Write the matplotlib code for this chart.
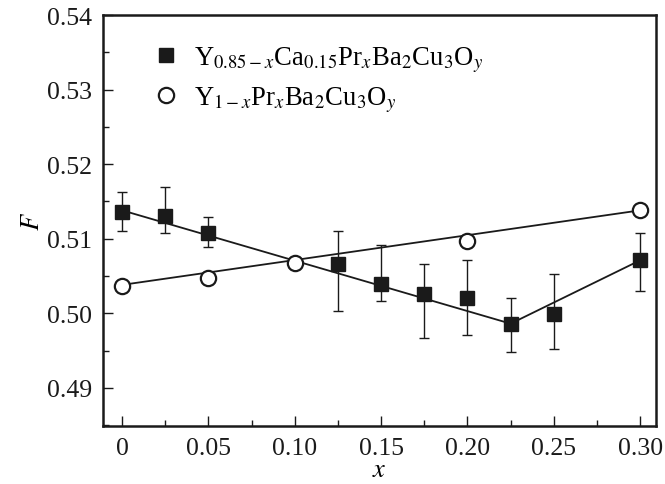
import matplotlib
matplotlib.use("Agg")
import matplotlib.pyplot as plt
from matplotlib.ticker import MultipleLocator
from matplotlib.lines import Line2D

plt.rcParams['font.family'] = ['Liberation Serif', 'DejaVu Serif']
plt.rcParams['mathtext.fontset'] = 'stix'

# Data: Y(0.85-x)Ca0.15PrxBa2Cu3Oy (squares with error bars)
x_ca = [0.0, 0.025, 0.05, 0.125, 0.15, 0.175, 0.20, 0.225, 0.25, 0.30]
F_ca = [0.5136, 0.5131, 0.5108, 0.5066, 0.5039, 0.5026, 0.5020, 0.4986, 0.4999, 0.5071]
F_ca_hi = [0.5163, 0.5169, 0.5129, 0.5110, 0.5092, 0.5066, 0.5072, 0.5021, 0.5053, 0.5108]
F_ca_lo = [0.5110, 0.5107, 0.5089, 0.5003, 0.5016, 0.4967, 0.4971, 0.4948, 0.4952, 0.5030]
# guide line for squares
x_ca_line = [0.0, 0.225, 0.30]
F_ca_line = [0.5138, 0.4986, 0.5071]

# Data: Y(1-x)PrxBa2Cu3Oy (open circles)
x_pr = [0.0, 0.05, 0.10, 0.20, 0.30]
F_pr = [0.5037, 0.5047, 0.5067, 0.5097, 0.5138]
# linear fit line for circles
x_pr_line = [0.0, 0.30]
F_pr_line = [0.5038, 0.5138]

xticks = [0, 0.05, 0.10, 0.15, 0.20, 0.25, 0.30]
xticklabels = ['0', '0.05', '0.10', '0.15', '0.20', '0.25', '0.30']
yticks = [0.49, 0.50, 0.51, 0.52, 0.53, 0.54]
yticklabels = ['0.49', '0.50', '0.51', '0.52', '0.53', '0.54']

label_ca = r'Y$_{0.85-x}$Ca$_{0.15}$Pr$_{x}$Ba$_{2}$Cu$_{3}$O$_{y}$'
label_pr = r'Y$_{1-x}$Pr$_{x}$Ba$_{2}$Cu$_{3}$O$_{y}$'

fig = plt.figure(figsize=(6.65, 4.85), dpi=100)
ax = fig.add_axes([0.155, 0.12, 0.831, 0.847])

yerr = [[f - lo for f, lo in zip(F_ca, F_ca_lo)], [hi - f for f, hi in zip(F_ca, F_ca_hi)]]
ax.errorbar(x_ca, F_ca, yerr=yerr, fmt='none', ecolor='#1a1a1a', elinewidth=1.0,
            capsize=3.5, capthick=1.0, zorder=2)
ax.plot(x_ca_line, F_ca_line, color='#1a1a1a', lw=1.3, zorder=2)
ax.plot(x_pr_line, F_pr_line, color='#1a1a1a', lw=1.3, zorder=2)
ax.plot(x_ca, F_ca, linestyle='none', marker='s', ms=10, color='#1a1a1a', zorder=3)
ax.plot(x_pr, F_pr, linestyle='none', marker='o', ms=11, mfc='white', mec='#1a1a1a',
        mew=1.6, zorder=3)

ax.set_xlim(-0.011, 0.309)
ax.set_ylim(0.4849, 0.54)
ax.set_xticks(xticks)
ax.set_xticklabels(xticklabels)
ax.set_yticks(yticks)
ax.set_yticklabels(yticklabels)
ax.xaxis.set_minor_locator(MultipleLocator(0.025))
ax.yaxis.set_minor_locator(MultipleLocator(0.005))
ax.tick_params(which='both', direction='in', top=False, right=False, labelsize=18.5,
               colors='#1a1a1a', width=1.0)
ax.tick_params(which='major', length=7, pad=8)
ax.tick_params(which='minor', length=4.5)
for s in ax.spines.values():
    s.set_linewidth(1.8)
    s.set_color('#1a1a1a')

ax.set_xlabel(r'$x$', fontsize=19, labelpad=0)
ax.set_ylabel(r'$F$', fontsize=19, labelpad=2)

handles = [Line2D([], [], linestyle='none', marker='s', ms=10, color='#1a1a1a'),
           Line2D([], [], linestyle='none', marker='o', ms=11, mfc='white', mec='#1a1a1a', mew=1.6)]
ax.legend(handles, [label_ca, label_pr], loc='upper left', bbox_to_anchor=(0.07, 0.955),
          frameon=False, fontsize=19.2, handlelength=1.0, handletextpad=0.55,
          labelspacing=0.42, borderaxespad=0)

fig.savefig('out.png', dpi=100)
